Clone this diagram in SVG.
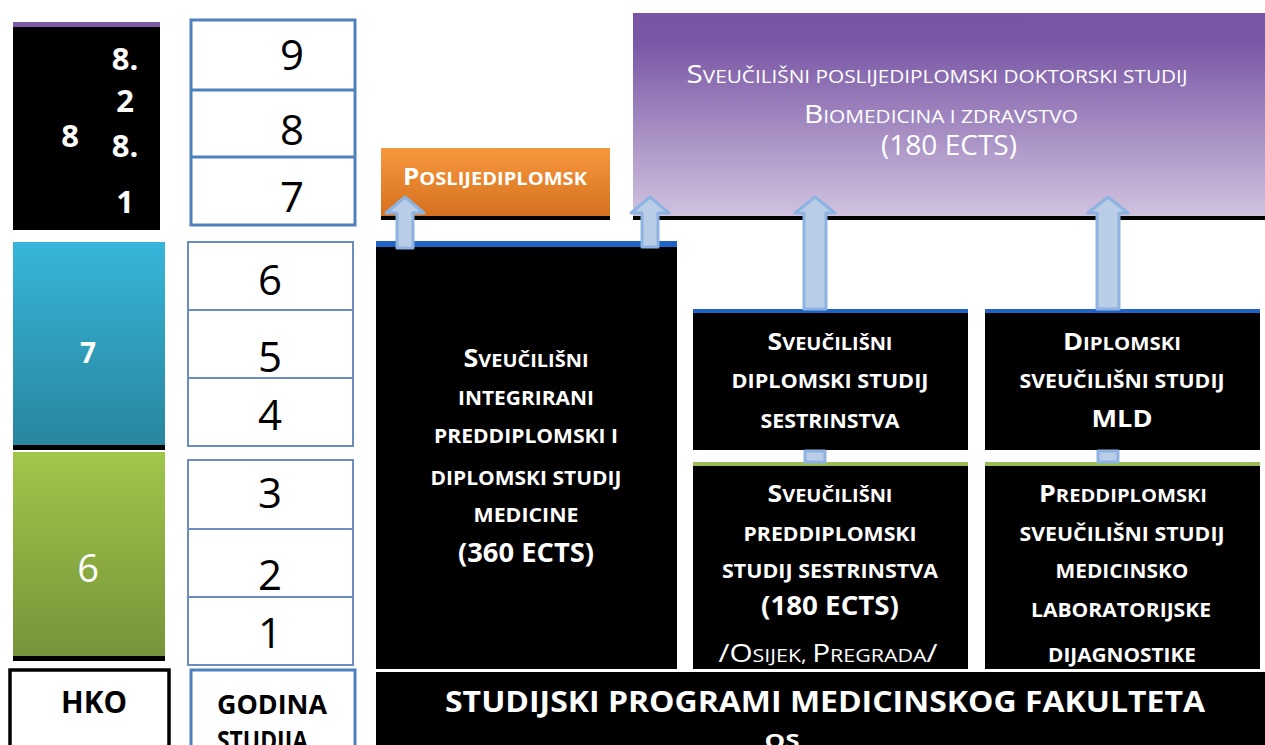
<svg xmlns="http://www.w3.org/2000/svg" width="1265" height="745" viewBox="0 0 1265 745">
<defs>
<linearGradient id="gPurple" x1="0" y1="0" x2="0" y2="1">
<stop offset="0" stop-color="#7955A5"/><stop offset="0.15" stop-color="#7A58A6"/><stop offset="1" stop-color="#D0C2DF"/>
</linearGradient>
<linearGradient id="gOrange" x1="0" y1="0" x2="0" y2="1">
<stop offset="0" stop-color="#F8983E"/><stop offset="1" stop-color="#D6711F"/>
</linearGradient>
<linearGradient id="gBlue" x1="0" y1="0" x2="0" y2="1">
<stop offset="0" stop-color="#37B5DA"/><stop offset="1" stop-color="#28869E"/>
</linearGradient>
<linearGradient id="gGreen" x1="0" y1="0" x2="0" y2="1">
<stop offset="0" stop-color="#A0C64A"/><stop offset="1" stop-color="#76943A"/>
</linearGradient>
</defs>
<style>
text{font-family:"Open Sans","Liberation Sans",sans-serif;text-anchor:middle}
.w{fill:#fff}
.k{fill:#000}
.b{font-weight:bold}
.yr{font-size:42px;fill:#000}
.sc{font-size:19px}
.ybox{fill:#fff;stroke:#6C8EBF;stroke-width:2}
.ydiv{stroke:#6C8EBF;stroke-width:2}
.blk{fill:#000}
.bstrip{fill:#1F63C6}
.gstrip{fill:#9BBB59}
.arr{fill:#B9CDE7;stroke:#8DB3E2;stroke-width:3;stroke-linejoin:round}
</style>
<rect width="1265" height="745" fill="#fff"/>

<g id="hko-level-8">
<rect x="13" y="22" width="147" height="208" class="blk"/>
<rect x="13" y="22" width="147" height="5" fill="#7B5AA6"/>
<text x="70" y="147" class="w b" font-size="31">8</text>
<text x="125" y="70" class="w b" font-size="31">8.</text>
<text x="125" y="112" class="w b" font-size="31">2</text>
<text x="125" y="157" class="w b" font-size="31">8.</text>
<text x="125" y="213" class="w b" font-size="31">1</text>
</g>

<g id="years-9-7">
<rect x="191" y="20" width="164" height="205" fill="#fff" stroke="#4F81BD" stroke-width="3"/>
<line x1="191" y1="90" x2="355" y2="90" stroke="#4F81BD" stroke-width="3"/>
<line x1="191" y1="157" x2="355" y2="157" stroke="#4F81BD" stroke-width="3"/>
<text x="292" y="70" class="yr">9</text>
<text x="292" y="145" class="yr">8</text>
<text x="292" y="212" class="yr">7</text>
</g>

<g id="hko-level-7">
<rect x="13" y="242" width="152" height="203" fill="url(#gBlue)"/>
<rect x="13" y="445" width="152" height="5" class="blk"/>
<text x="88" y="363" class="w b" font-size="28">7</text>
</g>

<g id="years-6-4">
<rect x="188" y="242" width="165" height="204" class="ybox"/>
<line x1="188" y1="310" x2="353" y2="310" class="ydiv"/>
<line x1="188" y1="378" x2="353" y2="378" class="ydiv"/>
<text x="270" y="295" class="yr">6</text>
<text x="270" y="372" class="yr">5</text>
<text x="270" y="430" class="yr">4</text>
</g>

<g id="hko-level-6">
<rect x="13" y="452" width="152" height="204" fill="url(#gGreen)"/>
<rect x="13" y="656" width="152" height="5" class="blk"/>
<text x="88" y="582" class="w" font-size="38">6</text>
</g>

<g id="years-3-1">
<rect x="188" y="460" width="165" height="205" class="ybox"/>
<line x1="188" y1="529" x2="353" y2="529" class="ydiv"/>
<line x1="188" y1="597" x2="353" y2="597" class="ydiv"/>
<text x="270" y="508" class="yr">3</text>
<text x="270" y="590" class="yr">2</text>
<text x="270" y="648" class="yr">1</text>
</g>

<g id="hko-header">
<rect x="10" y="670" width="159" height="90" fill="#fff" stroke="#000" stroke-width="3.5"/>
<text x="94" y="713" class="k b" font-size="30" textLength="66" lengthAdjust="spacingAndGlyphs">HKO</text>
</g>

<g id="godina-header">
<rect x="191" y="670" width="164" height="90" fill="#fff" stroke="#4F81BD" stroke-width="3"/>
<text x="217" y="714" class="k b" font-size="27" style="text-anchor:start" textLength="110" lengthAdjust="spacingAndGlyphs">GODINA</text>
<text x="217" y="750" class="k b" font-size="27" style="text-anchor:start" textLength="91" lengthAdjust="spacingAndGlyphs">STUDIJA</text>
</g>

<g id="poslijediplomski">
<rect x="381" y="148" width="229" height="68" fill="url(#gOrange)"/>
<rect x="381" y="216" width="229" height="4" class="blk"/>
<text x="495" y="185" class="w b" textLength="184" lengthAdjust="spacingAndGlyphs"><tspan font-size="24">P</tspan><tspan font-size="18.5">OSLIJEDIPLOMSK</tspan></text>
</g>

<g id="doktorski-studij">
<rect x="633" y="13" width="632" height="203" fill="url(#gPurple)"/>
<rect x="633" y="216" width="632" height="4" class="blk"/>
<text x="937" y="83" class="w" textLength="501" lengthAdjust="spacingAndGlyphs"><tspan font-size="25">S</tspan><tspan font-size="17.5">VEUČILIŠNI POSLIJEDIPLOMSKI DOKTORSKI STUDIJ</tspan></text>
<text x="941" y="123" class="w" textLength="274" lengthAdjust="spacingAndGlyphs"><tspan font-size="25">B</tspan><tspan font-size="17.5">IOMEDICINA I ZDRAVSTVO</tspan></text>
<text x="949" y="155" class="w" font-size="28" textLength="136" lengthAdjust="spacingAndGlyphs">(180 ECTS)</text>
</g>

<g id="integrirani-studij-medicine">
<rect x="376" y="241" width="301" height="6" class="bstrip"/>
<rect x="376" y="247" width="301" height="422" class="blk"/>
<text x="526" y="367" class="w b" textLength="125" lengthAdjust="spacingAndGlyphs"><tspan font-size="25">S</tspan><tspan font-size="18.5">VEUČILIŠNI</tspan></text>
<text x="526" y="405" class="w b sc" textLength="136" lengthAdjust="spacingAndGlyphs">INTEGRIRANI</text>
<text x="526" y="443" class="w b sc" textLength="184" lengthAdjust="spacingAndGlyphs">PREDDIPLOMSKI I</text>
<text x="526" y="485" class="w b sc" textLength="191" lengthAdjust="spacingAndGlyphs">DIPLOMSKI STUDIJ</text>
<text x="526" y="522" class="w b sc" textLength="105" lengthAdjust="spacingAndGlyphs">MEDICINE</text>
<text x="526" y="562" class="w b" font-size="27" textLength="136" lengthAdjust="spacingAndGlyphs">(360 ECTS)</text>
</g>

<g id="diplomski-sestrinstvo">
<rect x="693" y="309" width="275" height="4" class="bstrip"/>
<rect x="693" y="313" width="275" height="137" class="blk"/>
<text x="830" y="350" class="w b" textLength="125" lengthAdjust="spacingAndGlyphs"><tspan font-size="24">S</tspan><tspan font-size="18">VEUČILIŠNI</tspan></text>
<text x="830" y="388" class="w b sc" textLength="197" lengthAdjust="spacingAndGlyphs">DIPLOMSKI STUDIJ</text>
<text x="830" y="428" class="w b sc" textLength="139" lengthAdjust="spacingAndGlyphs">SESTRINSTVA</text>
</g>

<g id="diplomski-mld">
<rect x="985" y="309" width="275" height="4" class="bstrip"/>
<rect x="985" y="313" width="275" height="137" class="blk"/>
<text x="1122" y="350" class="w b" textLength="118" lengthAdjust="spacingAndGlyphs"><tspan font-size="24">D</tspan><tspan font-size="18">IPLOMSKI</tspan></text>
<text x="1122" y="388" class="w b sc" textLength="205" lengthAdjust="spacingAndGlyphs">SVEUČILIŠNI STUDIJ</text>
<text x="1122" y="427" class="w b" font-size="24" textLength="61" lengthAdjust="spacingAndGlyphs">MLD</text>
</g>

<g id="preddiplomski-sestrinstvo">
<rect x="693" y="462" width="275" height="4" class="gstrip"/>
<rect x="693" y="466" width="275" height="203" class="blk"/>
<text x="830" y="502" class="w b" textLength="125" lengthAdjust="spacingAndGlyphs"><tspan font-size="24">S</tspan><tspan font-size="18">VEUČILIŠNI</tspan></text>
<text x="830" y="541" class="w b sc" textLength="173" lengthAdjust="spacingAndGlyphs">PREDDIPLOMSKI</text>
<text x="830" y="578" class="w b sc" textLength="216" lengthAdjust="spacingAndGlyphs">STUDIJ SESTRINSTVA</text>
<text x="830" y="615" class="w b" font-size="27" textLength="138" lengthAdjust="spacingAndGlyphs">(180 ECTS)</text>
<text x="828" y="662" class="w" textLength="219" lengthAdjust="spacingAndGlyphs"><tspan font-size="25">/O</tspan><tspan font-size="18">SIJEK, </tspan><tspan font-size="25">P</tspan><tspan font-size="18">REGRADA</tspan><tspan font-size="25">/</tspan></text>
</g>

<g id="preddiplomski-mld">
<rect x="985" y="462" width="275" height="4" class="gstrip"/>
<rect x="985" y="466" width="275" height="203" class="blk"/>
<text x="1123" y="502" class="w b" textLength="168" lengthAdjust="spacingAndGlyphs"><tspan font-size="24">P</tspan><tspan font-size="18">REDDIPLOMSKI</tspan></text>
<text x="1122" y="541" class="w b sc" textLength="205" lengthAdjust="spacingAndGlyphs">SVEUČILIŠNI STUDIJ</text>
<text x="1122" y="578" class="w b sc" textLength="133" lengthAdjust="spacingAndGlyphs">MEDICINSKO</text>
<text x="1121" y="617" class="w b sc" textLength="180" lengthAdjust="spacingAndGlyphs">LABORATORIJSKE</text>
<text x="1122" y="662" class="w b sc" textLength="148" lengthAdjust="spacingAndGlyphs">DIJAGNOSTIKE</text>
</g>

<g id="studijski-programi">
<rect x="376" y="672" width="889" height="73" class="blk"/>
<text x="825" y="712" class="w b" font-size="29" textLength="760" lengthAdjust="spacingAndGlyphs">STUDIJSKI PROGRAMI MEDICINSKOG FAKULTETA</text>
<text x="782" y="748" class="w b" font-size="19" textLength="35" lengthAdjust="spacingAndGlyphs">OS</text>
</g>

<g id="connectors">
<path class="arr" d="M397,248 V213 H386 L405,197 L424,213 H413 V248 Z"/>
<path class="arr" d="M642,247 V213 H631 L650,197 L669,213 H658 V247 Z"/>
<path class="arr" d="M804,309 V213 H795 L815,197 L835,213 H826 V309 Z"/>
<path class="arr" d="M1097,309 V213 H1088 L1108,197 L1128,213 H1119 V309 Z"/>
<rect class="arr" x="805" y="451" width="20" height="11"/>
<rect class="arr" x="1098" y="451" width="20" height="11"/>
</g>
</svg>
